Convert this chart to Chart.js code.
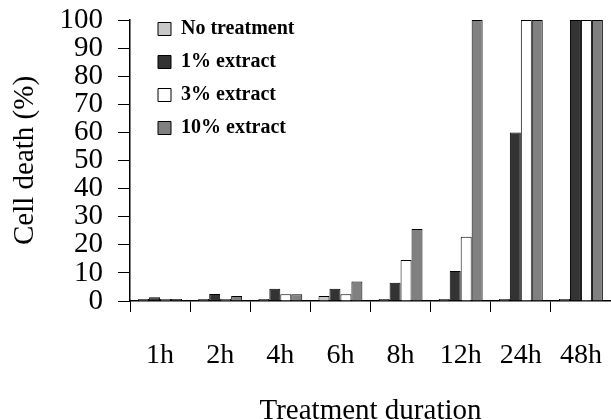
<!DOCTYPE html>
<html>
<head>
<meta charset="utf-8">
<script src="https://cdn.jsdelivr.net/npm/chart.js@4.4.1/dist/chart.umd.min.js"></script>
<style>
    html, body { margin: 0; padding: 0; background: #fff; overflow: hidden; }
    #wrap { width: 611px; height: 419px; position: relative; }
</style>
</head>
<body>
<div id="wrap"><canvas id="myChart"></canvas></div>
<script>
const horas = ['1h', '2h', '4h', '6h', '8h', '12h', '24h', '48h']
const series = ['No treatment', '1% extract', '3% extract', '10% extract']

const valoresControl = [0.4, 0.3, 0.3, 1.8, 0.3, 0.3, 0.3, 0.3]
const valores1 = [1.3, 2.5, 4.4, 4.4, 6.5, 10.7, 60, 100]
const valores3 = [0.4, 0, 2.4, 2.4, 14.6, 22.9, 100, 100]
const valores10 = [0.4, 1.8, 2.4, 6.9, 25.6, 100, 100, 100]

const colores = ['#c8c8c8', '#333333', '#ffffff', '#808080']

const fuente = 'Liberation Serif, Times New Roman, serif'

// mueve la leyenda dentro del area del grafico, arriba a la izquierda
const moverLeyenda = {
    id: 'moverLeyenda',
    afterLayout(chart) {
        const lg = chart.legend
        const ca = chart.chartArea
        const w = lg.width
        const h = lg.height
        lg.left = ca.left + 15
        lg.top = ca.top - 14
        lg.right = lg.left + w
        lg.bottom = lg.top + h
    }
}

function grafico() {
    const ctx = document.getElementById('myChart')
    const datos = [valoresControl, valores1, valores3, valores10]

    new Chart(ctx, {
        type: 'bar',
        data: {
            labels: horas,
            datasets: series.map((s, i) => ({
                label: s,
                data: datos[i],
                backgroundColor: colores[i],
                borderColor: '#000',
                borderWidth: 1,
                borderSkipped: 'bottom',
                minBarLength: 2,
                categoryPercentage: 0.73,
                barPercentage: 1
            }))
        },
        plugins: [moverLeyenda],
        options: {
            responsive: true,
            maintainAspectRatio: false,
            animation: false,
            layout: {
                padding: 0
            },
            plugins: {
                tooltip: { enabled: false },
                legend: {
                    display: true,
                    position: 'chartArea',
                    align: 'start',
                    labels: {
                        color: '#000',
                        boxWidth: 13,
                        boxHeight: 13,
                        padding: 13,
                        font: { family: fuente, size: 20, weight: 'bold' }
                    }
                }
            },
            scales: {
                x: {
                    afterFit(scale) {
                        scale.height = 118
                        scale.paddingLeft = 0
                        scale.paddingRight = 0
                    },
                    grid: {
                        display: true,
                        drawOnChartArea: false,
                        drawTicks: true,
                        tickLength: 11,
                        color: '#000',
                        offset: true
                    },
                    border: { color: '#000', width: 1.5 },
                    ticks: {
                        color: '#000',
                        padding: 27,
                        maxRotation: 0,
                        autoSkip: false,
                        font: { family: fuente, size: 28 }
                    },
                    title: {
                        display: true,
                        text: 'Treatment duration',
                        color: '#000',
                        padding: { top: 0, bottom: 0 },
                        font: { family: fuente, size: 29, lineHeight: 0.5 }
                    }
                },
                y: {
                    min: 0,
                    max: 100,
                    afterFit(scale) {
                        scale.width = 130
                        scale.paddingTop = 20
                        scale.paddingBottom = 0
                    },
                    grid: {
                        display: true,
                        drawOnChartArea: false,
                        drawTicks: true,
                        tickLength: 12,
                        color: '#000'
                    },
                    border: { color: '#000', width: 1.5 },
                    ticks: {
                        color: '#000',
                        stepSize: 10,
                        padding: 15,
                        autoSkip: false,
                        font: { family: fuente, size: 29, lineHeight: 1 }
                    },
                    title: {
                        display: true,
                        text: 'Cell death (%)',
                        color: '#000',
                        padding: { top: 8, bottom: 0 },
                        font: { family: fuente, size: 29 }
                    }
                }
            }
        }
    })
}

grafico()
</script>
</body>
</html>
